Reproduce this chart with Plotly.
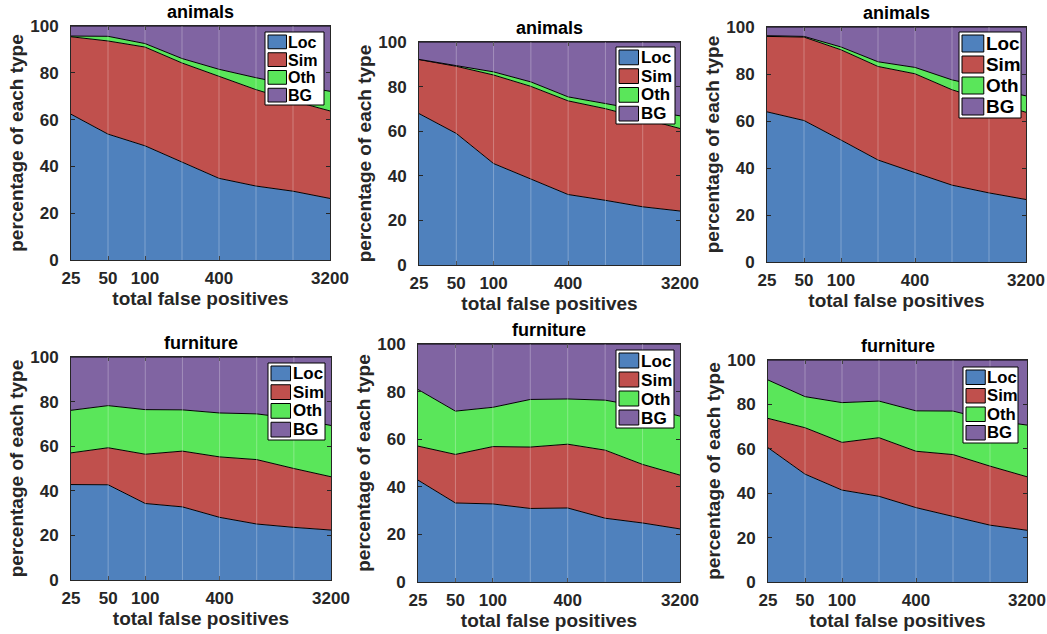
import plotly.graph_objects as go

# Total false positives at which the breakdown is measured
fp_counts = [25, 50, 100, 200, 400, 800, 1600, 3200]
tick_vals = [25, 50, 100, 400, 3200]

types = ["Loc", "Sim", "Oth", "BG"]
type_colors = ["#4f81bd", "#c0504d", "#5ae65a", "#8064a2"]

titles = ["animals", "animals", "animals", "furniture", "furniture", "furniture"]

# Percentage of each error type (Loc, Sim, Oth, BG) per panel
loc_1 = [62.3, 53.8, 48.8, 42.0, 34.9, 31.6, 29.4, 26.3]
sim_1 = [33.1, 39.8, 42.2, 42.2, 43.6, 41.2, 38.6, 37.4]
oth_1 = [0.3, 2.0, 1.5, 1.9, 3.0, 5.1, 6.7, 8.4]
bg_1 = [4.3, 4.4, 7.5, 13.9, 18.5, 22.1, 25.3, 27.9]

loc_2 = [67.9, 59.0, 45.5, 38.5, 31.6, 29.0, 26.1, 24.2]
sim_2 = [24.2, 30.1, 39.7, 41.6, 42.0, 41.1, 39.6, 37.0]
oth_2 = [0.1, 0.2, 1.4, 2.0, 1.8, 2.3, 3.7, 5.7]
bg_2 = [7.8, 10.7, 13.4, 17.9, 24.6, 27.6, 30.6, 33.1]

loc_3 = [63.9, 60.2, 51.9, 43.4, 38.0, 32.7, 29.4, 26.6]
sim_3 = [32.1, 35.5, 38.4, 39.8, 42.1, 40.6, 38.9, 37.1]
oth_3 = [0.3, 0.3, 1.2, 2.0, 2.7, 4.2, 5.7, 7.0]
bg_3 = [3.7, 4.0, 8.5, 14.8, 17.2, 22.5, 26.0, 29.3]

loc_4 = [42.8, 42.7, 34.3, 32.8, 28.1, 25.1, 23.6, 22.4]
sim_4 = [14.2, 16.6, 22.1, 25.0, 27.1, 28.9, 26.4, 23.9]
oth_4 = [19.1, 18.9, 20.0, 18.5, 19.7, 20.5, 22.4, 23.0]
bg_4 = [23.9, 21.8, 23.6, 23.7, 25.1, 25.5, 27.6, 30.7]

loc_5 = [42.8, 33.2, 32.8, 30.9, 31.1, 26.8, 24.8, 22.3]
sim_5 = [14.3, 20.4, 24.1, 25.8, 26.8, 28.6, 24.6, 22.6]
oth_5 = [23.8, 18.2, 16.5, 20.0, 19.0, 21.0, 24.2, 24.8]
bg_5 = [19.1, 28.2, 26.6, 23.3, 23.1, 23.6, 26.4, 30.3]

loc_6 = [60.5, 48.6, 41.4, 38.6, 33.5, 29.6, 25.6, 23.3]
sim_6 = [13.2, 20.9, 21.5, 26.4, 25.4, 27.8, 26.6, 24.1]
oth_6 = [17.3, 14.0, 17.9, 16.5, 18.2, 19.6, 20.7, 23.3]
bg_6 = [9.0, 16.5, 19.2, 18.5, 22.9, 23.0, 27.1, 29.3]

panels = [
    [loc_1, sim_1, oth_1, bg_1],
    [loc_2, sim_2, oth_2, bg_2],
    [loc_3, sim_3, oth_3, bg_3],
    [loc_4, sim_4, oth_4, bg_4],
    [loc_5, sim_5, oth_5, bg_5],
    [loc_6, sim_6, oth_6, bg_6],
]

W, H = 1047, 634
# Axes boxes in pixels: (left, right, top, bottom)
boxes = [
    (71, 330, 26, 260),
    (419, 680, 42, 265),
    (767, 1026, 27, 262),
    (71, 331, 357, 580),
    (418, 680, 344, 582),
    (768, 1027, 360, 582),
]
# Legend boxes in pixels: (left, top, width, height)
legend_boxes = [
    (265, 32, 59, 73),
    (616, 47, 59, 77),
    (959, 32, 62, 86),
    (268, 363, 57, 77),
    (616, 350, 58, 78),
    (963, 367, 55, 76),
]

FONT = "Liberation Sans, Arial, sans-serif"
AX_COL = "#262626"


def px(xp):
    return xp / W


def py(yp):
    return 1 - yp / H


fig = go.Figure()
layout = dict(
    width=W, height=H,
    margin=dict(l=0, r=0, t=0, b=0),
    paper_bgcolor="white", plot_bgcolor="white",
    showlegend=False,
)
shapes = []
annotations = []

for i, (series, box, lbox) in enumerate(zip(panels, boxes, legend_boxes)):
    n = i + 1
    sfx = "" if n == 1 else str(n)
    xa, ya = "x" + sfx, "y" + sfx
    l, r, t, b = box

    for name, vals, col in zip(types, series, type_colors):
        fig.add_trace(go.Scatter(
            x=fp_counts, y=vals, name=name,
            xaxis=xa, yaxis=ya,
            stackgroup="s" + str(n), mode="lines",
            line=dict(color="black", width=1),
            fillcolor=col, hoverinfo="skip",
        ))

    layout["xaxis" + sfx] = dict(
        domain=[px(l), px(r)], anchor=ya, type="log",
        range=[1.39794, 3.50515],
        tickvals=tick_vals, ticktext=[str(v) for v in tick_vals],
        ticks="inside", ticklen=4, tickcolor=AX_COL,
        showline=True, linecolor=AX_COL, linewidth=1, mirror="ticks",
        showgrid=False, zeroline=False,
        tickfont=dict(family=FONT, size=17, color=AX_COL, weight="bold"),
        ticklabelstandoff=3,
        title=dict(text="total false positives", standoff=3,
                   font=dict(family=FONT, size=19, color=AX_COL, weight="bold")),
        automargin=False,
    )
    layout["yaxis" + sfx] = dict(
        domain=[py(b), py(t)], anchor=xa,
        range=[0, 100], tickvals=[0, 20, 40, 60, 80, 100],
        ticks="inside", ticklen=4, tickcolor=AX_COL,
        showline=True, linecolor=AX_COL, linewidth=1, mirror="ticks",
        showgrid=False, zeroline=False,
        tickfont=dict(family=FONT, size=17, color=AX_COL, weight="bold"),
        ticklabelstandoff=8,
        title=dict(text="percentage of each type", standoff=1,
                   font=dict(family=FONT, size=19, color=AX_COL, weight="bold")),
        automargin=False,
    )
    # faint vertical grid at every measured count
    for xv in fp_counts[1:-1]:
        shapes.append(dict(
            type="line", xref=xa, yref=ya + " domain",
            x0=xv, x1=xv, y0=0, y1=1, layer="above",
            line=dict(color="rgba(255,255,255,0.28)", width=1),
        ))
    annotations.append(dict(
        text=titles[i], xref=xa + " domain", yref=ya + " domain",
        x=0.5, y=1, yanchor="bottom", yshift=2, showarrow=False,
        font=dict(family=FONT, size=18, color="black", weight="bold"),
    ))

    # legend: framed box with a colour swatch and label per type
    lx, ly, lw, lh = lbox
    shapes.append(dict(
        type="rect", xref="paper", yref="paper",
        x0=px(lx), x1=px(lx + lw), y0=py(ly + lh), y1=py(ly),
        fillcolor="white", line=dict(color="black", width=1), layer="above",
    ))
    row_h = (lh - 2) / 4
    scale = lh / 75
    fsize = 16.5 * scale
    sw = 19 * scale
    for k, (name, col) in enumerate(zip(types, type_colors)):
        y0 = ly + 1 + k * row_h
        shapes.append(dict(
            type="rect", xref="paper", yref="paper",
            x0=px(lx + 3), x1=px(lx + 3 + sw),
            y0=py(y0 + row_h - 2), y1=py(y0 + 2),
            fillcolor=col, line=dict(color="black", width=1), layer="above",
        ))
        annotations.append(dict(
            text=name, xref="paper", yref="paper",
            x=px(lx + 3 + sw), y=py(y0 + row_h / 2),
            xanchor="left", yanchor="middle", showarrow=False,
            font=dict(family=FONT, size=fsize, color="black", weight="bold"),
        ))

layout["shapes"] = shapes
layout["annotations"] = annotations
fig.update_layout(**layout)
fig.write_html("out.html")
